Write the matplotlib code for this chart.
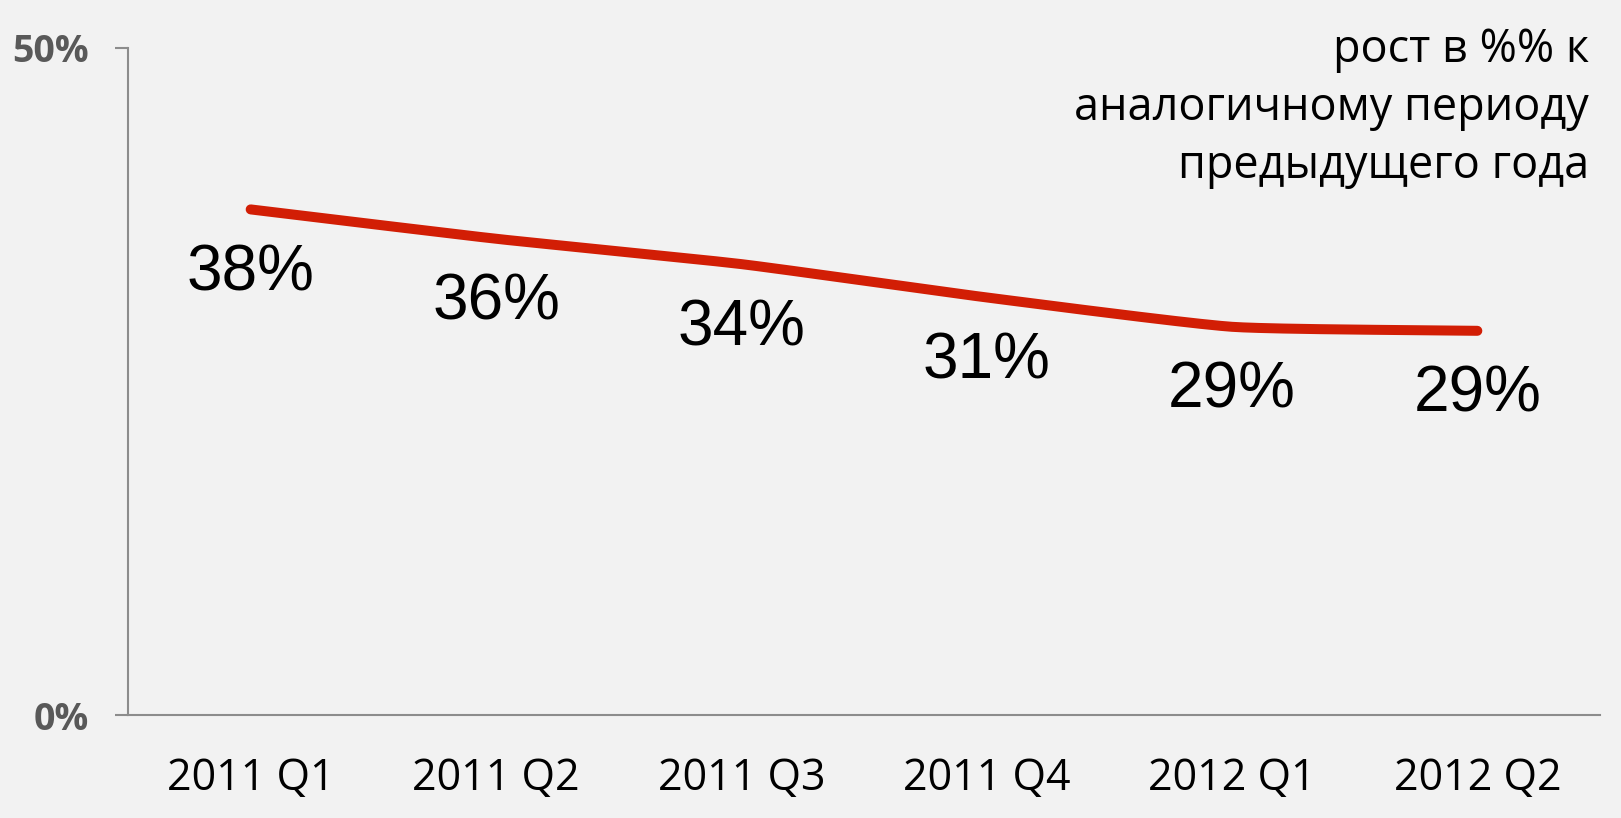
import numpy as np
import matplotlib
matplotlib.use("Agg")
import matplotlib.pyplot as plt

categories = ["2011 Q1", "2011 Q2", "2011 Q3", "2011 Q4", "2012 Q1", "2012 Q2"]
values = [37.9, 35.7, 33.8, 31.3, 29.1, 28.8]
labels = ["38%", "36%", "34%", "31%", "29%", "29%"]
y_ticks = [0, 50]
y_tick_labels = ["0%", "50%"]
note = "рост в %% к\nаналогичному периоду\nпредыдущего года"

BG = "#f2f2f2"
RED = "#d21e05"
AXIS = "#8c8c8c"


def smooth(xs, ys, n=40):
    xs = np.asarray(xs, float)
    ys = np.asarray(ys, float)
    m = len(xs)
    tx = np.zeros(m)
    ty = np.zeros(m)
    for i in range(m):
        a = max(i - 1, 0)
        b = min(i + 1, m - 1)
        tx[i] = (xs[b] - xs[a]) / 2 if 0 < i < m - 1 else (xs[b] - xs[a])
        ty[i] = (ys[b] - ys[a]) / 2 if 0 < i < m - 1 else (ys[b] - ys[a])
    ox, oy = [], []
    for i in range(m - 1):
        t = np.linspace(0, 1, n, endpoint=(i == m - 2))
        h00 = 2 * t**3 - 3 * t**2 + 1
        h10 = t**3 - 2 * t**2 + t
        h01 = -2 * t**3 + 3 * t**2
        h11 = t**3 - t**2
        ox.append(h00 * xs[i] + h10 * tx[i] * 0.5 + h01 * xs[i + 1] + h11 * tx[i + 1] * 0.5)
        oy.append(h00 * ys[i] + h10 * ty[i] * 0.5 + h01 * ys[i + 1] + h11 * ty[i + 1] * 0.5)
    return np.concatenate(ox), np.concatenate(oy)


fig = plt.figure(figsize=(16.21, 8.18), dpi=100, facecolor=BG)
ax = fig.add_axes([128 / 1621, 1 - 715 / 818, (1600 - 128) / 1621, (715 - 48) / 818])
ax.set_facecolor(BG)

x = np.arange(len(categories))
sx, sy = smooth(x, values)
ax.plot(sx, sy, color=RED, lw=7.2, solid_capstyle="round", solid_joinstyle="round")

for xi, v, lab in zip(x, values, labels):
    ax.annotate(lab, (xi, v), xytext=(0, -64), textcoords="offset pixels",
                ha="center", va="center", fontsize=46, family="Liberation Sans",
                color="black")

ax.set_xlim(-0.5, len(categories) - 0.5)
ax.set_ylim(0, 50)
ax.set_yticks(y_ticks)
ax.set_yticklabels(y_tick_labels, family="Open Sans", fontweight="bold",
                   fontsize=27, color="#595959")
ax.set_xticks(x)
ax.set_xticklabels(categories, family="Open Sans", fontsize=31, color="black")
ax.tick_params(axis="y", length=9.5, width=1.5, color=AXIS, pad=19)
ax.tick_params(axis="x", length=0, pad=30)
for s in ["top", "right"]:
    ax.spines[s].set_visible(False)
for s in ["left", "bottom"]:
    ax.spines[s].set_color(AXIS)
    ax.spines[s].set_linewidth(1.5)

fig.text(1589 / 1621, 1 - 108 / 818, note, ha="right", va="center",
         multialignment="right", family="Open Sans", fontsize=32.4,
         linespacing=1.33, color="black")

fig.savefig("out.png", dpi=100, facecolor=BG)
